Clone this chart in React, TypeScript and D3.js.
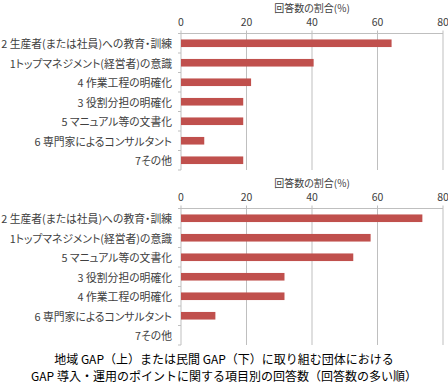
import React from "react";
import * as d3 from "d3";

const xTicks = [0, 20, 40, 60, 80];
const axisTitle = "回答数の割合(%)";

const topCategories = [
  "2 生産者(または社員)への教育・訓練",
  "1トップマネジメント(経営者)の意識",
  "4 作業工程の明確化",
  "3 役割分担の明確化",
  "5 マニュアル等の文書化",
  "6 専門家によるコンサルタント",
  "7その他",
];
const topValues = [64.3, 40.5, 21.4, 19.0, 19.0, 7.1, 19.0];

const bottomCategories = [
  "2 生産者(または社員)への教育・訓練",
  "1トップマネジメント(経営者)の意識",
  "5 マニュアル等の文書化",
  "3 役割分担の明確化",
  "4 作業工程の明確化",
  "6 専門家によるコンサルタント",
  "7その他",
];
const bottomValues = [73.7, 57.9, 52.6, 31.6, 31.6, 10.5, 0];

const captionLines = [
  "地域 GAP（上）または民間 GAP（下）に取り組む団体における",
  "GAP 導入・運用のポイントに関する項目別の回答数（回答数の多い順）",
];

const FONT = "'Noto Sans CJK JP', 'Noto Sans', sans-serif";
const BAR = "#C0504D";
const GRID = "#BFBFBF";
const PALT = { fontFeatureSettings: '"palt"' } as React.CSSProperties;

function Panel({ cats, vals, top }: { cats: string[]; vals: number[]; top: number }) {
  const x = d3.scaleLinear().domain([0, 80]).range([181, 443]);
  const plotTop = top + 33.5;
  const plotBottom = top + 170;
  const y = d3
    .scaleBand<string>()
    .domain(cats)
    .range([plotTop, plotBottom])
    .paddingInner(0.61)
    .paddingOuter(0.305);
  const step = y.step();
  const bounds = d3.range(cats.length + 1).map((i) => plotTop + i * step);
  return (
    <g>
      <text x={(x(0) + x(80)) / 2} y={top + 7} textAnchor="middle" dominantBaseline="central" fontSize={10} fill="#404040" fontFamily={FONT} style={PALT}>
        {axisTitle}
      </text>
      {xTicks.map((t) => (
        <text key={"tl" + t} x={x(t)} y={top + 21} textAnchor="middle" dominantBaseline="central" fontSize={10.5} fill="#404040" fontFamily={FONT}>
          {t}
        </text>
      ))}
      {xTicks.map((t) => (
        <line key={"g" + t} x1={x(t)} x2={x(t)} y1={plotTop - 3} y2={plotBottom} stroke={GRID} strokeWidth={1} />
      ))}
      <line x1={x(0)} x2={x(80)} y1={plotTop} y2={plotTop} stroke={GRID} strokeWidth={1} />
      {bounds.map((b, i) => (
        <line key={"yt" + i} x1={x(0) - 3} x2={x(0)} y1={b} y2={b} stroke={GRID} strokeWidth={1} />
      ))}
      {cats.map((c, i) => (
        <rect key={"b" + i} x={x(0)} y={y(c)!} width={x(vals[i]) - x(0)} height={y.bandwidth()} fill={BAR} />
      ))}
      {cats.map((c, i) => (
        <text key={"l" + i} x={172} y={y(c)! + y.bandwidth() / 2} textAnchor="end" dominantBaseline="central" fontSize={10.8} fill="#404040" fontFamily={FONT} style={PALT}>
          {c}
        </text>
      ))}
    </g>
  );
}

export default function App() {
  return (
    <svg width={448} height={383} style={{ position: "absolute", left: 0, top: 0, background: "#fff" }}>
      <rect x={0} y={0} width={448} height={383} fill="#fff" />
      <Panel cats={topCategories} vals={topValues} top={0} />
      <Panel cats={bottomCategories} vals={bottomValues} top={175} />
      {captionLines.map((l, i) => (
        <text key={i} x={224} y={358 + i * 17} textAnchor="middle" dominantBaseline="central" fontSize={12} fill="#000" fontFamily={FONT}>
          {l}
        </text>
      ))}
    </svg>
  );
}
